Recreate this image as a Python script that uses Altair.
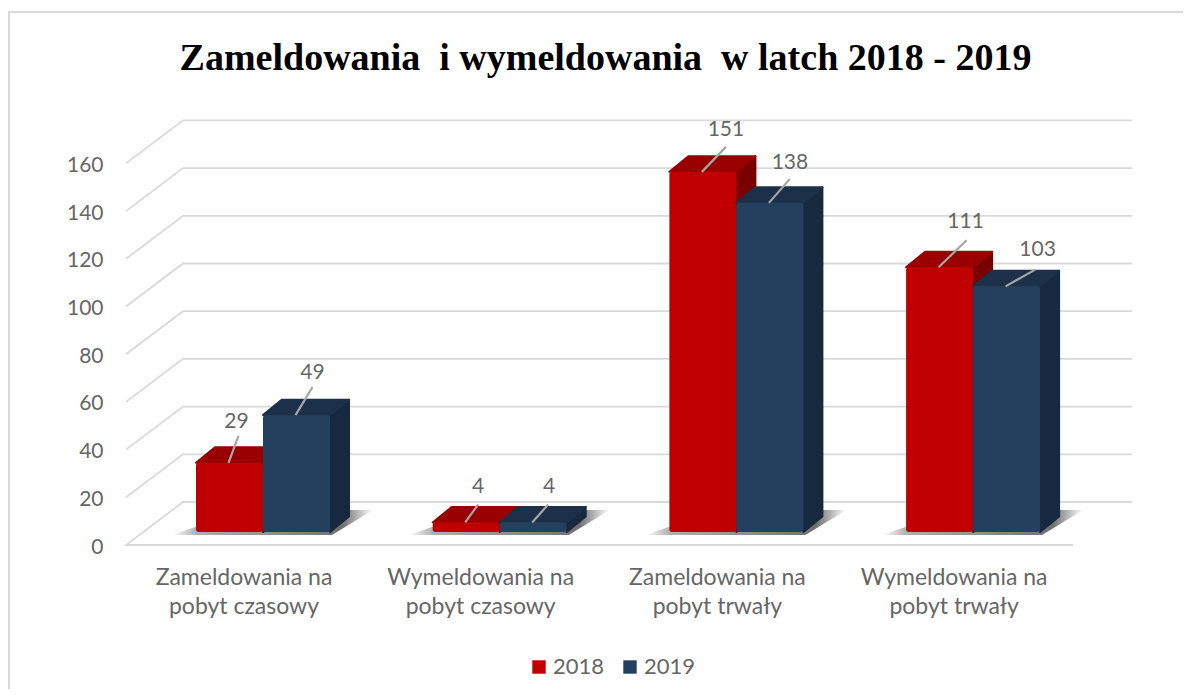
import altair as alt
import pandas as pd

categories = ["Zameldowania na\npobyt czasowy", "Wymeldowania na\npobyt czasowy",
              "Zameldowania na\npobyt trwały", "Wymeldowania na\npobyt trwały"]
years = ["2018", "2019"]
values_2018 = [29, 4, 151, 111]
values_2019 = [49, 4, 138, 103]
axis_ticks = [0, 20, 40, 60, 80, 100, 120, 140, 160]

# scale of the picture: pixels per category and per unit of value
PX_X = 236.7
PX_Y = 2.385
W, H = 1175, 681
X0, Y0 = 263 - 8, 532 - 8  # pair centre of first category, bar base (inside the view)
ux = lambda px: px / PX_X
uy = lambda px: px / PX_Y
x_scale = alt.Scale(domain=[ux(-X0), ux(W - X0)], nice=False, zero=False)
y_scale = alt.Scale(domain=[uy(-(H - Y0)), uy(Y0)], nice=False, zero=False)
x_enc = alt.X("x:Q", scale=x_scale, axis=None)
y_axis = alt.Axis(values=axis_ticks, grid=False, domain=False, ticks=False, title=None,
                  offset=-95, labelPadding=0, labelFont="Lato", labelFontSize=21,
                  labelColor="#666666", labelOffset=15, labelFlush=False, labelOverlap=False)
y_enc = alt.Y("y:Q", scale=y_scale, axis=y_axis, stack=None)

BAR = ux(67)
DX, DY = ux(19), uy(15.5)
FRONT_DY = uy(13)     # floor front edge lies below the bar base
BACK_DY = uy(30)      # back wall lies above the bar base
G_FL, G_BL, G_BR, G_FR = ux(126 - 263), ux(183 - 263), ux(1132 - 263), ux(1073 - 263)

# leader line end and label centre, relative to the front-top centre of the bar (px)
leader = {"2018": [(10, 27, 8, 41), (13, 18, 13, 35), (24, 25, 24, 42), (28, 27, 27, 45)],
          "2019": [(17, 28, 17, 42), (16, 18, 17, 35), (21, 24, 21, 40), (30, 17, 32, 36)]}
faces = {"2018": ("#C00000", "#990000", "#7A0000"), "2019": ("#24405F", "#1C3049", "#17293F")}
series = {"2018": values_2018, "2019": values_2019}


def poly(rows, fill, edge=None):
    """A closed face of a bar or shadow, drawn from vertices through the scales."""
    style = {"stroke": edge, "strokeWidth": 2, "strokeJoin": "round"} if edge else {}
    return alt.Chart(pd.DataFrame(rows)).mark_area(orient="vertical", fill=fill, **style).encode(
        x=x_enc, y=y_enc, y2="y2:Q", detail="k:N")


# --- wall and floor lines
grid_rows = []
for t in axis_ticks:
    pts = [(G_FL, t - FRONT_DY), (G_BL, t + BACK_DY), (G_BR, t + BACK_DY)]
    if t == 0:
        pts = [(G_FR, -FRONT_DY), (G_FL, -FRONT_DY), (G_BL, BACK_DY), (G_BR, BACK_DY)]
    for i, (x, y) in enumerate(pts):
        grid_rows.append({"x": x, "y": y, "k": t, "i": i})
grid = alt.Chart(pd.DataFrame(grid_rows)).mark_line(color="#D9D9D9", strokeWidth=1.8).encode(
    x=x_enc, y=y_enc, detail="k:N", order=alt.Order("i:Q"))

# --- soft shadows on the floor
shadow_rows = []
for c in range(len(categories)):
    l, r = c - BAR, c + BAR
    b = uy(-3)
    t = uy(22)
    for i, (x, y, y2) in enumerate([(l - ux(24), b, b), (l + ux(49), b, t),
                                    (r + ux(2), b, t), (r + ux(43), t, t)]):
        shadow_rows.append({"x": x, "y": y, "y2": y2, "k": c, "i": i})
shadow = poly(shadow_rows, alt.Gradient(gradient="linear", x1=0, x2=1, y1=0, y2=0, stops=[
    alt.GradientStop(color="#FFFFFF", offset=0), alt.GradientStop(color="#B0B0B0", offset=0.12),
    alt.GradientStop(color="#707070", offset=0.85), alt.GradientStop(color="#FFFFFF", offset=1)]))

# --- bars
layers = [grid, shadow]
for n, year in enumerate(years):
    front, top_col, side_col = faces[year]
    vals = series[year]
    lefts = [c - BAR + n * BAR for c in range(len(vals))]
    side_rows, top_rows = [], []
    for c, (l, v) in enumerate(zip(lefts, vals)):
        r = l + BAR
        for i, (x, y, y2) in enumerate([(r, 0, v), (r + DX, DY, v + DY)]):
            side_rows.append({"x": x, "y": y, "y2": y2, "k": c, "i": i})
        for i, (x, y, y2) in enumerate([(l, v, v), (l + DX, v, v + DY), (r, v, v + DY), (r + DX, v + DY, v + DY)]):
            top_rows.append({"x": x, "y": y, "y2": y2, "k": c, "i": i})
    layers.append(poly(side_rows, side_col, side_col))
    layers.append(poly(top_rows, top_col, top_col))
    bars = pd.DataFrame({"x": lefts, "x2": [l + BAR for l in lefts], "y": vals, "year": year})
    layers.append(alt.Chart(bars).mark_bar(cornerRadius=2.5).encode(
        x=x_enc, x2="x2:Q", y=y_enc, y2=alt.datum(0),
        color=alt.Color("year:N", scale=alt.Scale(domain=years, range=[faces[y][0] for y in years]),
                        legend=alt.Legend(title=None, orient="none", legendX=520, legendY=648,
                                          direction="horizontal", symbolType="square", symbolSize=180,
                                          symbolStrokeWidth=0, labelFont="Lato", labelFontSize=22,
                                          labelColor="#666666", columnPadding=14, labelOffset=3,
                                          symbolOffset=0))))

# --- leader lines and value labels
line_rows, label_rows = [], []
for n, year in enumerate(years):
    for c, v in enumerate(series[year]):
        cx = c - BAR / 2 + n * BAR - ux(1)
        ex, ey, tx, ty = leader[year][c]
        line_rows += [{"x": cx, "y": v, "k": f"{year}{c}", "i": 0},
                      {"x": cx + ux(ex), "y": v + uy(ey), "k": f"{year}{c}", "i": 1}]
        label_rows.append({"x": cx + ux(tx), "y": v + uy(ty), "t": str(v)})
layers.append(alt.Chart(pd.DataFrame(line_rows)).mark_line(color="#A6A6A6", strokeWidth=2.2).encode(
    x=x_enc, y=y_enc, detail="k:N", order=alt.Order("i:Q")))
layers.append(alt.Chart(pd.DataFrame(label_rows)).mark_text(
    font="Lato", fontSize=21, color="#666666", align="center", baseline="middle").encode(
    x=x_enc, y=y_enc, text="t:N"))

# --- category labels
cat_df = pd.DataFrame({"x": [i - ux(19) for i in range(len(categories))], "t": categories})
layers.append(alt.Chart(cat_df).mark_text(
    font="Lato", fontSize=23, color="#666666", align="center", baseline="alphabetic",
    lineBreak="\n", lineHeight=29).encode(
    x=x_enc, y=alt.value(577), text="t:N"))

# --- frame of the chart
layers.append(alt.Chart(pd.DataFrame({"a": [0]})).mark_rule(color="#D9D9D9", strokeWidth=2).encode(
    x=alt.value(1), y=alt.value(4), y2=alt.value(H)))
layers.append(alt.Chart(pd.DataFrame({"a": [0]})).mark_rule(color="#D9D9D9", strokeWidth=2).encode(
    x=alt.value(0), x2=alt.value(W), y=alt.value(4)))

chart = alt.layer(*layers).properties(
    width=W, height=H, padding=0, autosize=alt.AutoSizeParams(type="none"),
    title=alt.TitleParams("Zameldowania\u00a0 i wymeldowania\u00a0 w latch 2018 - 2019", font="Liberation Serif",
                          fontSize=38, fontWeight="bold", color="#000000", anchor="middle",
                          offset=-70, dx=10),
    background="white",
).configure_view(stroke=None)

chart.save("out.html", embed_options={"renderer": "svg", "actions": False})
